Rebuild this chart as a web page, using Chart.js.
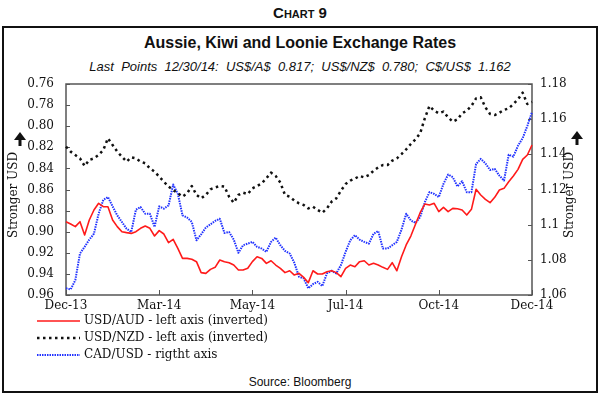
<!DOCTYPE html>
<html>
<head>
<meta charset="utf-8">
<title>Chart 9</title>
<script src="https://cdn.jsdelivr.net/npm/chart.js@4.4.1/dist/chart.umd.min.js"></script>
<style>
  html, body { margin: 0; padding: 0; background: #fff; }
  .wrap { position: relative; width: 600px; height: 395px; overflow: hidden; font-family: 'Liberation Sans', Arial, sans-serif; color: #111; }
  .head { position: absolute; top: 4px; left: 0; width: 600px; text-align: center; font-weight: bold; font-size: 15px; line-height: 17px; font-variant: small-caps; }
  .box { position: absolute; left: 2px; top: 26px; width: 592px; height: 363px; border: 2px solid #111; }
  .title { position: absolute; top: 34px; left: 0; width: 600px; text-align: center; font-weight: bold; font-size: 16px; line-height: 18px; }
  .sub { position: absolute; top: 59px; left: 0; width: 600px; text-align: center; font-style: italic; font-size: 13px; line-height: 16px; white-space: pre; }
  .src { position: absolute; top: 374px; left: 0; width: 600px; text-align: center; font-size: 12px; line-height: 16px; }
  canvas { position: absolute; left: 0; top: 0; }
</style>
</head>
<body>
<div class="wrap">
  <div class="head">Chart 9</div>
  <div class="box"></div>
  <div class="title">Aussie, Kiwi and Loonie Exchange Rates</div>
  <div class="sub">Last  Points  12/30/14:  US$/A$  0.817;  US$/NZ$  0.780;  C$/US$  1.162</div>
  <div class="src">Source: Bloomberg</div>
  <canvas id="myChart" width="600" height="395"></canvas>
</div>
<script>
// x axis labels, one every 20 points
const xTickLabels = ['Dec-13', 'Mar-14', 'May-14', 'Jul-14', 'Oct-14', 'Dec-14']

// USD/AUD - left axis (inverted)
const usdAud = [
  0.8905, 0.8927, 0.8952, 0.8905, 0.9031, 0.8889, 0.8794, 0.8731, 0.8763, 0.8763,
  0.8889, 0.8952, 0.9000, 0.9009, 0.9016, 0.9000, 0.8968, 0.8946, 0.8968, 0.9041,
  0.8990, 0.9022, 0.9104, 0.9072, 0.9158, 0.9253, 0.9253, 0.9262, 0.9284, 0.9388,
  0.9395, 0.9357, 0.9338, 0.9268, 0.9284, 0.9294, 0.9316, 0.9363, 0.9363, 0.9347,
  0.9284, 0.9237, 0.9253, 0.9300, 0.9275, 0.9316, 0.9347, 0.9388, 0.9370, 0.9411,
  0.9395, 0.9433, 0.9483, 0.9370, 0.9401, 0.9401, 0.9379, 0.9370, 0.9388, 0.9426,
  0.9347, 0.9316, 0.9332, 0.9284, 0.9275, 0.9316, 0.9300, 0.9316, 0.9338, 0.9357,
  0.9294, 0.9370, 0.9237, 0.9126, 0.9041, 0.8930, 0.8820, 0.8738, 0.8747, 0.8731,
  0.8810, 0.8769, 0.8810, 0.8779, 0.8782, 0.8794, 0.8842, 0.8788, 0.8598, 0.8652,
  0.8693, 0.8725, 0.8674, 0.8605, 0.8589, 0.8526, 0.8472, 0.8409, 0.8314, 0.8273,
  0.8178
]

// USD/NZD - left axis (inverted)
const usdNzd = [
  0.8194, 0.8241, 0.8273, 0.8305, 0.8377, 0.8320, 0.8305, 0.8273, 0.8226, 0.8115,
  0.8178, 0.8241, 0.8289, 0.8336, 0.8295, 0.8305, 0.8336, 0.8352, 0.8399, 0.8431,
  0.8478, 0.8526, 0.8573, 0.8605, 0.8636, 0.8668, 0.8636, 0.8567, 0.8652, 0.8684,
  0.8652, 0.8598, 0.8580, 0.8567, 0.8573, 0.8668, 0.8725, 0.8652, 0.8630, 0.8643,
  0.8589, 0.8567, 0.8542, 0.8494, 0.8440, 0.8472, 0.8535, 0.8652, 0.8668, 0.8706,
  0.8731, 0.8747, 0.8779, 0.8763, 0.8794, 0.8820, 0.8779, 0.8715, 0.8684, 0.8611,
  0.8548, 0.8516, 0.8497, 0.8472, 0.8485, 0.8463, 0.8422, 0.8390, 0.8368, 0.8368,
  0.8327, 0.8305, 0.8264, 0.8219, 0.8169, 0.8124, 0.8068, 0.7925, 0.7808, 0.7853,
  0.7878, 0.7862, 0.7916, 0.7957, 0.7935, 0.7878, 0.7853, 0.7808, 0.7736, 0.7726,
  0.7821, 0.7884, 0.7894, 0.7872, 0.7846, 0.7831, 0.7790, 0.7745, 0.7682, 0.7790,
  0.7770
]

// CAD/USD - right axis
const cadUsd = [
  1.0638, 1.0632, 1.0685, 1.0836, 1.0874, 1.0915, 1.0949, 1.1062, 1.1141, 1.1157,
  1.1104, 1.1053, 1.1015, 1.0977, 1.0958, 1.1085, 1.1100, 1.1062, 1.1062, 1.0987,
  1.1104, 1.1091, 1.1109, 1.1228, 1.1175, 1.1053, 1.1040, 1.1015, 1.0911, 1.0945,
  1.0983, 1.1002, 1.1021, 1.1034, 1.0953, 1.0958, 1.0915, 1.0840, 1.0883, 1.0892,
  1.0902, 1.0874, 1.0864, 1.0845, 1.0902, 1.0926, 1.0883, 1.0851, 1.0836, 1.0783,
  1.0704, 1.0694, 1.0638, 1.0662, 1.0675, 1.0651, 1.0723, 1.0738, 1.0723, 1.0770,
  1.0845, 1.0911, 1.0940, 1.0915, 1.0902, 1.0892, 1.0949, 1.0964, 1.0864, 1.0864,
  1.0883, 1.0902, 1.0972, 1.1062, 1.1024, 1.1010, 1.1043, 1.1128, 1.1185, 1.1175,
  1.1157, 1.1232, 1.1285, 1.1270, 1.1217, 1.1247, 1.1185, 1.1185, 1.1345, 1.1374,
  1.1349, 1.1311, 1.1317, 1.1279, 1.1251, 1.1398, 1.1387, 1.1449, 1.1492, 1.1562,
  1.1640
]

const categories = usdAud.map((v, i) => i)

const serif = 'DejaVu Serif'

function arrow (ctx, x, y) {
  ctx.beginPath()
  ctx.moveTo(x, y)
  ctx.lineTo(x + 6, y + 8)
  ctx.lineTo(x + 1.5, y + 8)
  ctx.lineTo(x + 1.5, y + 14)
  ctx.lineTo(x - 1.5, y + 14)
  ctx.lineTo(x - 1.5, y + 8)
  ctx.lineTo(x - 6, y + 8)
  ctx.closePath()
  ctx.fill()
}

// frame + inward tick marks
const frame = {
  id: 'frame',
  beforeDatasetsDraw (chart) {
    const { ctx, chartArea: a, scales } = chart
    ctx.save()
    ctx.strokeStyle = '#555'
    ctx.lineWidth = 1.5
    ctx.strokeRect(a.left, a.top, a.right - a.left, a.bottom - a.top)
    ctx.lineWidth = 1
    ctx.beginPath()
    scales.y.ticks.forEach(t => {
      const y = Math.round(scales.y.getPixelForValue(t.value)) + 0.5
      ctx.moveTo(a.left, y)
      ctx.lineTo(a.left + 4, y)
    })
    scales.y2.ticks.forEach(t => {
      const y = Math.round(scales.y2.getPixelForValue(t.value)) + 0.5
      ctx.moveTo(a.right, y)
      ctx.lineTo(a.right - 4, y)
    })
    scales.x.ticks.forEach((t, i) => {
      if (t.label == null || t.label === '') return
      const x = Math.round(scales.x.getPixelForTick(i)) + 0.5
      ctx.moveTo(x, a.bottom)
      ctx.lineTo(x, a.bottom - 5)
    })
    ctx.stroke()
    ctx.restore()
  },
  afterDraw (chart) {
    const { ctx } = chart
    ctx.save()
    ctx.fillStyle = '#111'
    ctx.font = '12px "' + serif + '"'
    ctx.textBaseline = 'middle'

    // legend, one row per dataset
    chart.data.datasets.forEach((ds, i) => {
      const y = 321 + i * 17
      ctx.strokeStyle = ds.borderColor
      ctx.lineWidth = ds.borderWidth
      ctx.setLineDash(ds.borderDash || [])
      ctx.beginPath()
      ctx.moveTo(37, y)
      ctx.lineTo(80, y)
      ctx.stroke()
      ctx.setLineDash([])
      ctx.textAlign = 'left'
      ctx.fillText(ds.label, 84, y)
    })

    // axis titles
    ctx.textAlign = 'center'
    ;[14, 570].forEach(x => {
      ctx.save()
      ctx.translate(x, 195)
      ctx.rotate(-Math.PI / 2)
      ctx.fillText('Stronger USD', 0, 0)
      ctx.restore()
    })
    arrow(ctx, 20, 132)
    arrow(ctx, 577, 131)
    ctx.restore()
  }
}

;(() => {
  'use strict'

  const ctx = document.getElementById('myChart')

  // eslint-disable-next-line no-unused-vars
  const myChart = new Chart(ctx, {
    type: 'line',
    plugins: [frame],
    data: {
      labels: categories,
      datasets: [{
        label: 'USD/AUD - left axis (inverted)',
        data: usdAud,
        yAxisID: 'y',
        borderColor: '#ff1a1a',
        borderWidth: 1.6,
      }, {
        label: 'USD/NZD - left axis (inverted)',
        data: usdNzd,
        yAxisID: 'y',
        borderColor: '#111',
        borderWidth: 2.5,
        borderDash: [2.5, 3.5],
      }, {
        label: 'CAD/USD - rigtht axis',
        data: cadUsd,
        yAxisID: 'y2',
        borderColor: '#2233ff',
        borderWidth: 2,
        borderDash: [1.5, 1],
      }]
    },
    options: {
      responsive: false,
      animation: false,
      elements: {
        point: { radius: 0 },
        line: { tension: 0, backgroundColor: 'transparent', borderJoinStyle: 'round' }
      },
      layout: {
        padding: { top: 84, bottom: 80, left: 0, right: 0 }
      },
      plugins: {
        legend: { display: false },
        tooltip: { enabled: false },
      },
      scales: {
        x: {
          grid: { display: false, drawTicks: false },
          border: { display: false },
          afterFit: s => { s.height = 20 },
          ticks: {
            autoSkip: false,
            maxRotation: 0,
            padding: 4,
            color: '#111',
            font: { family: serif, size: 12 },
            callback: (v, i) => i % 20 === 0 ? xTickLabels[i / 20] : null
          }
        },
        y: {
          position: 'left',
          reverse: true,
          min: 0.76,
          max: 0.96,
          grid: { display: false, drawTicks: false },
          border: { display: false },
          afterFit: s => { s.width = 66 },
          ticks: {
            stepSize: 0.02,
            padding: 12,
            color: '#111',
            font: { family: serif, size: 12 },
            callback: v => v.toFixed(2)
          }
        },
        y2: {
          position: 'right',
          min: 1.06,
          max: 1.18,
          grid: { display: false, drawTicks: false },
          border: { display: false },
          afterFit: s => { s.width = 68 },
          ticks: {
            stepSize: 0.02,
            padding: 8,
            color: '#111',
            font: { family: serif, size: 12 },
            callback: v => String(+v.toFixed(2))
          }
        }
      }
    }
  })
})()
</script>
</body>
</html>
